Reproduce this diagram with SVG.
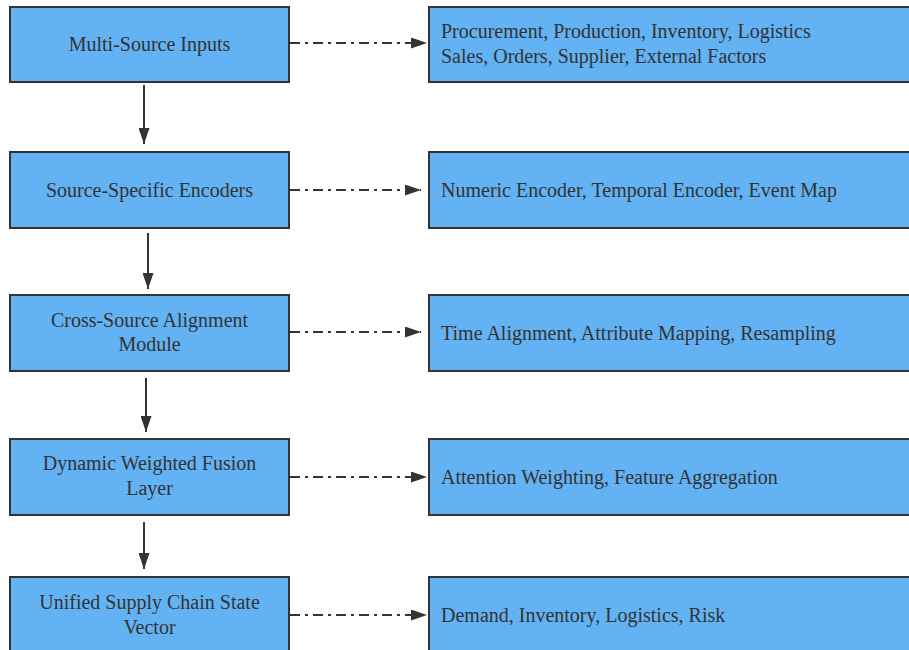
<svg xmlns="http://www.w3.org/2000/svg" width="909" height="650" viewBox="0 0 909 650">
<style>
.box{fill:#62b2f4;stroke:#333;stroke-width:2}
.t{font-family:"Liberation Serif","Times New Roman",serif;font-size:20px;fill:#333}
.c{text-anchor:middle}
.e{stroke:#333;stroke-width:2;fill:none}
.d{stroke-dasharray:10 5 3 5}
</style>
<defs>
<marker id="ah" markerWidth="16" markerHeight="11" refX="16" refY="5.5" orient="auto" markerUnits="userSpaceOnUse" viewBox="0 0 16 11">
<path d="M0,0 L16,5.5 L0,11 z" fill="#333"/>
</marker>
</defs>
<rect width="909" height="650" fill="#fff"/>
<g id="connectors">
<path class="e" d="M144,85 V144" marker-end="url(#ah)"/>
<path class="e" d="M148,233 V289" marker-end="url(#ah)"/>
<path class="e" d="M146,378 V432" marker-end="url(#ah)"/>
<path class="e" d="M144,522 V569" marker-end="url(#ah)"/>
<path class="e d" d="M290,43 H427" marker-end="url(#ah)"/>
<path class="e d" d="M290,190 H421" marker-end="url(#ah)"/>
<path class="e d" d="M290,332 H421" marker-end="url(#ah)"/>
<path class="e d" d="M290,477 H427" marker-end="url(#ah)"/>
<path class="e d" d="M290,615 H427" marker-end="url(#ah)"/>
</g>
<g id="n1"><rect class="box" x="10" y="7" width="279" height="75"/><text class="t c" x="149.5" y="51">Multi-Source Inputs</text></g>
<g id="n2"><rect class="box" x="10" y="152" width="279" height="76"/><text class="t c" x="149.5" y="197">Source-Specific Encoders</text></g>
<g id="n3"><rect class="box" x="10" y="295" width="279" height="76"/><text class="t c" x="149.5" y="327">Cross-Source Alignment</text><text class="t c" x="149.5" y="351">Module</text></g>
<g id="n4"><rect class="box" x="10" y="439" width="279" height="76"/><text class="t c" x="149.5" y="470">Dynamic Weighted Fusion</text><text class="t c" x="149.5" y="495">Layer</text></g>
<g id="n5"><rect class="box" x="10" y="577" width="279" height="76"/><text class="t c" x="149.5" y="609">Unified Supply Chain State</text><text class="t c" x="149.5" y="634">Vector</text></g>
<g id="r1"><rect class="box" x="429" y="7" width="490" height="75"/><text class="t" x="441" y="38">Procurement, Production, Inventory, Logistics</text><text class="t" x="441" y="63">Sales, Orders, Supplier, External Factors</text></g>
<g id="r2"><rect class="box" x="429" y="152" width="490" height="76"/><text class="t" x="441" y="197">Numeric Encoder, Temporal Encoder, Event Map</text></g>
<g id="r3"><rect class="box" x="429" y="295" width="490" height="76"/><text class="t" x="441" y="340">Time Alignment, Attribute Mapping, Resampling</text></g>
<g id="r4"><rect class="box" x="429" y="439" width="490" height="76"/><text class="t" x="441" y="484">Attention Weighting, Feature Aggregation</text></g>
<g id="r5"><rect class="box" x="429" y="577" width="490" height="76"/><text class="t" x="441" y="622">Demand, Inventory, Logistics, Risk</text></g>
</svg>
